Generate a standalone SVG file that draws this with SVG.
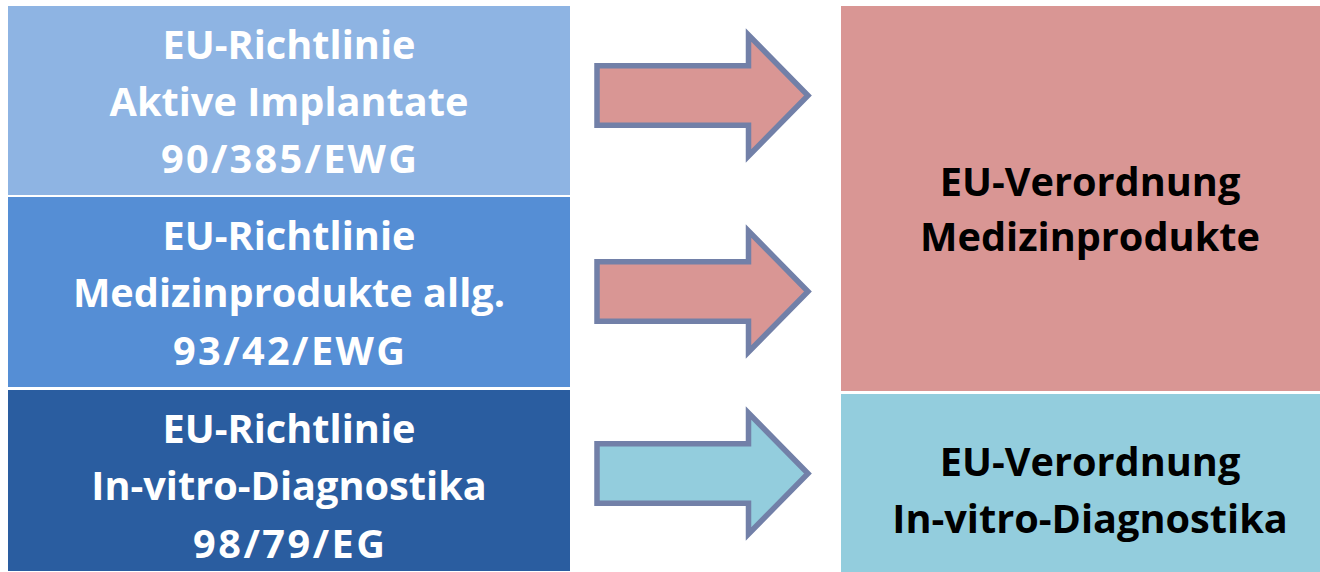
<svg xmlns="http://www.w3.org/2000/svg" width="1320" height="572" viewBox="0 0 1320 572">
<style>
.t{font-family:"Open Sans","Liberation Sans",sans-serif;font-weight:bold;font-size:39.7px;text-anchor:middle}
.w{fill:#ffffff}
.k{fill:#000000}
.arr{stroke:#7280A8;stroke-width:5.5;stroke-linejoin:miter}
</style>
<rect width="1320" height="572" fill="#ffffff"/>
<g id="src1">
<rect x="8" y="6" width="562" height="189" fill="#8EB4E3"/>
<text class="t w" x="289" y="59">EU-Richtlinie</text>
<text class="t w" x="289" y="116">Aktive Implantate</text>
<text class="t w" x="289" y="173" textLength="256" lengthAdjust="spacing">90/385/EWG</text>
</g>
<g id="src2">
<rect x="8" y="197" width="562" height="190" fill="#558ED5"/>
<text class="t w" x="289" y="250">EU-Richtlinie</text>
<text class="t w" x="289" y="307">Medizinprodukte allg.</text>
<text class="t w" x="289" y="365" textLength="232" lengthAdjust="spacing">93/42/EWG</text>
</g>
<g id="src3">
<rect x="8" y="390" width="562" height="181" fill="#2A5DA0"/>
<text class="t w" x="289" y="443">EU-Richtlinie</text>
<text class="t w" x="289" y="500">In-vitro-Diagnostika</text>
<text class="t w" x="289" y="558" textLength="192" lengthAdjust="spacing">98/79/EG</text>
</g>
<g id="mdr">
<rect x="841" y="6" width="479" height="385" fill="#D99694"/>
<text class="t k" x="1090" y="196">EU-Verordnung</text>
<text class="t k" x="1090" y="251">Medizinprodukte</text>
</g>
<g id="ivdr">
<rect x="841" y="394" width="479" height="178" fill="#93CDDD"/>
<text class="t k" x="1090" y="476">EU-Verordnung</text>
<text class="t k" x="1090" y="533">In-vitro-Diagnostika</text>
</g>
<g id="connectors">
<path class="arr" fill="#D99694" d="M597,65.8 L748.5,65.8 L748.5,35 L808,95.5 L748.5,156 L748.5,125.2 L597,125.2 Z"/>
<path class="arr" fill="#D99694" d="M597,261.8 L748.5,261.8 L748.5,231 L808,291.5 L748.5,352 L748.5,321.2 L597,321.2 Z"/>
<path class="arr" fill="#93CDDD" d="M597,443.8 L748.5,443.8 L748.5,413 L808,473.5 L748.5,534 L748.5,503.2 L597,503.2 Z"/>
</g>
</svg>
